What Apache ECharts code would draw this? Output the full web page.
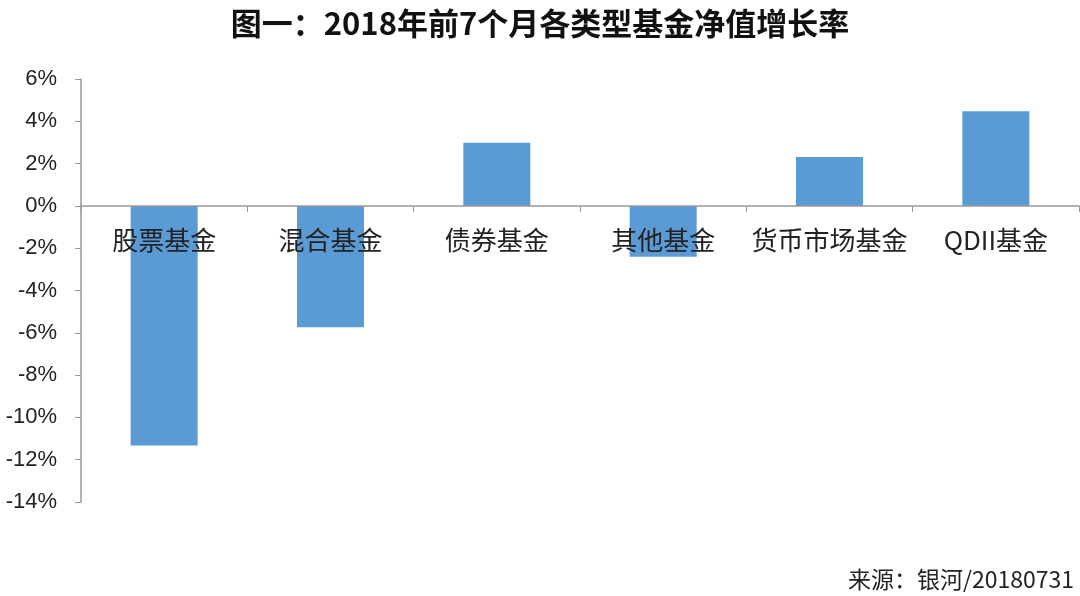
<!DOCTYPE html>
<html><head><meta charset="utf-8">
<script src="https://cdn.jsdelivr.net/npm/echarts@6/dist/echarts.min.js"></script>
<style>html,body{margin:0;padding:0;background:#fff}#c{width:1080px;height:596px}</style>
</head><body><div id="c"></div>
<script>
const categories = ['股票基金','混合基金','债券基金','其他基金','货币市场基金','QDII基金'];
const values = [-11.33, -5.74, 2.98, -2.41, 2.31, 4.47];
const titleText = '图一：2018年前7个月各类型基金净值增长率';
const sourceText = '来源：银河/20180731';

const chart = echarts.init(document.getElementById('c'));
chart.setOption({
  backgroundColor: '#fff',
  animation: false,
  title: {
    text: titleText, left: 'center', top: 3,
    textStyle: {fontFamily: '"Noto Sans CJK SC", sans-serif', fontSize: 31, fontWeight: 'bold', color: '#111'}
  },
  graphic: [{
    type: 'text', left: 848, top: 568,
    style: {text: sourceText, fontFamily: '"Noto Sans CJK SC", sans-serif', fontSize: 23, fill: '#222'}
  }],
  grid: {left: 81, right: 1, top: 79, bottom: 94, containLabel: false},
  xAxis: {
    type: 'category', data: categories, z: 5,
    axisLine: {onZero: true, lineStyle: {color: '#999', width: 1.5}},
    axisTick: {show: true, length: 6, lineStyle: {color: '#999'}},
    axisLabel: {margin: -275, fontSize: 26, color: '#222', fontFamily: '"Noto Sans CJK SC", sans-serif', interval: 0}
  },
  yAxis: {
    type: 'value', min: -14, max: 6, interval: 2,
    axisLine: {show: true, lineStyle: {color: '#999', width: 1.5}},
    axisTick: {show: true, length: 6, lineStyle: {color: '#999'}},
    splitLine: {show: false},
    axisLabel: {margin: 24, fontSize: 22, color: '#222', fontFamily: '"Liberation Sans", sans-serif', formatter: v => v + '%'}
  },
  series: [{
    type: 'bar', data: values, barWidth: 67, z: 1,
    itemStyle: {color: '#5B9BD5'}
  }]
});
</script></body></html>
